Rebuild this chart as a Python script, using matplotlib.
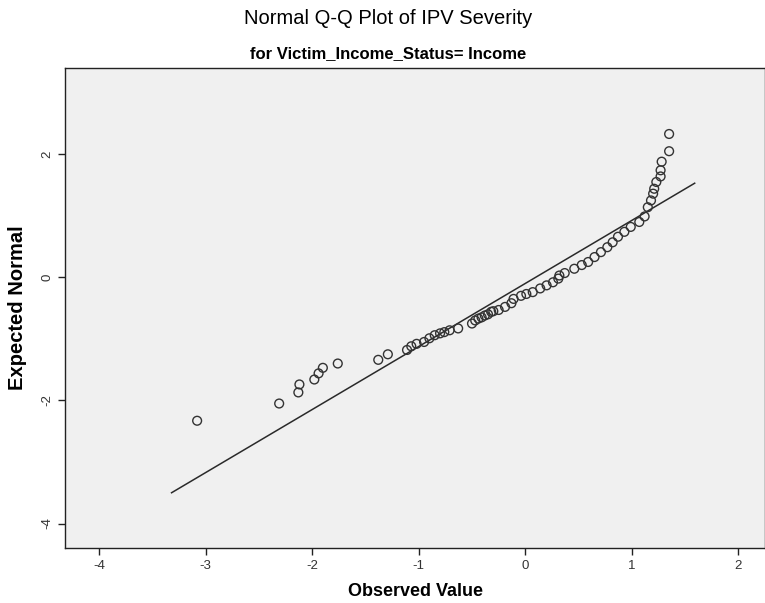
import matplotlib
matplotlib.use("Agg")
import matplotlib.pyplot as plt

observed = [-3.08, -2.31, -2.13, -2.12, -1.98, -1.94, -1.90, -1.76, -1.38, -1.29,
            -1.11, -1.07, -1.02, -0.95, -0.90, -0.85, -0.80, -0.76, -0.71, -0.63,
            -0.50, -0.47, -0.44, -0.41, -0.38, -0.35, -0.32, -0.30, -0.25, -0.19,
            -0.13, -0.11, -0.04, 0.01, 0.07, 0.14, 0.20, 0.26, 0.31, 0.32, 0.37,
            0.46, 0.53, 0.59, 0.65, 0.71, 0.77, 0.82, 0.87, 0.93, 0.99, 1.07,
            1.12, 1.15, 1.18, 1.20, 1.21, 1.23, 1.27, 1.27, 1.28, 1.35, 1.35]
expected = [-2.33, -2.05, -1.87, -1.74, -1.66, -1.56, -1.47, -1.40, -1.34, -1.25,
            -1.18, -1.12, -1.08, -1.05, -0.99, -0.94, -0.91, -0.89, -0.86, -0.83,
            -0.75, -0.70, -0.67, -0.65, -0.62, -0.60, -0.56, -0.55, -0.53, -0.48,
            -0.42, -0.35, -0.30, -0.27, -0.24, -0.18, -0.13, -0.08, -0.02, 0.03,
            0.07, 0.14, 0.20, 0.25, 0.33, 0.41, 0.49, 0.57, 0.66, 0.74, 0.82,
            0.90, 0.99, 1.14, 1.25, 1.36, 1.44, 1.55, 1.64, 1.74, 1.88, 2.05, 2.33]

line_x = [-3.32, 1.59]
line_y = [-3.50, 1.53]

x_ticks = [-4, -3, -2, -1, 0, 1, 2]
y_ticks = [-4, -2, 0, 2]

plt.rcParams["font.family"] = ["Liberation Sans", "DejaVu Sans"]

fig = plt.figure(figsize=(7.65, 6.03), dpi=100)
ax = fig.add_axes([0.085, 0.091, 0.915, 0.796])
ax.set_facecolor("#f0f0f0")

ax.plot(line_x, line_y, color="#2a2a2a", linewidth=1.1, zorder=2)
ax.scatter(observed, expected, s=40, facecolors="none", edgecolors="#333333",
           linewidths=1.0, zorder=3)

ax.set_xlim(-4.32, 2.25)
ax.set_ylim(-4.4, 3.4)
ax.set_xticks(x_ticks)
ax.set_yticks(y_ticks)
ax.set_xticklabels([str(v) for v in x_ticks])
ax.set_yticklabels([str(v) for v in y_ticks], rotation=90, va="center")
ax.tick_params(direction="out", length=5, width=1, colors="#222222", labelsize=9.5,
               labelcolor="#333333")
for s in ax.spines.values():
    s.set_color("#222222")
    s.set_linewidth(1.0)

ax.set_xlabel("Observed Value", fontsize=13, fontweight="bold", labelpad=8)
ax.set_ylabel("Expected Normal", fontsize=14.5, fontweight="bold", labelpad=10)

fig.text(0.508, 0.97, "Normal Q-Q Plot of IPV Severity", ha="center", va="center",
         fontsize=14.5)
fig.text(0.508, 0.912, "for Victim_Income_Status= Income", ha="center", va="center",
         fontsize=12, fontweight="bold")

fig.savefig("out.png", dpi=100)
